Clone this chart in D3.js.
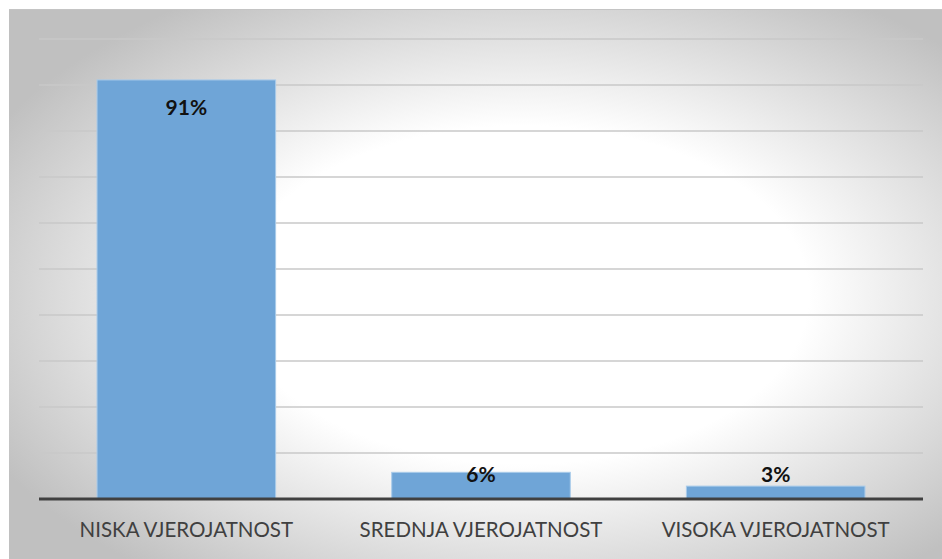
<!DOCTYPE html>
<html>
<head>
<meta charset="utf-8">
<script src="https://cdn.jsdelivr.net/npm/d3@7"></script>
<style>
  html, body { margin: 0; padding: 0; background: #fff; }
  svg { display: block; }
</style>
</head>
<body>
<svg id="chart" width="942" height="559"></svg>
<script>
// data
const categories = ["NISKA VJEROJATNOST", "SREDNJA VJEROJATNOST", "VISOKA VJEROJATNOST"];
const values = [91.1, 5.8, 2.8];
const labels = ["91%", "6%", "3%"];
const gridTicks = [0, 10, 20, 30, 40, 50, 60, 70, 80, 90, 100];

const width = 942, height = 559;
const svg = d3.select("#chart");

// background gradient (white in the middle, gray at the edges)
const defs = svg.append("defs");
const grad = defs.append("radialGradient")
    .attr("id", "bg")
    .attr("cx", "55%").attr("cy", "52%").attr("r", "64%");
grad.append("stop").attr("offset", "0%").attr("stop-color", "#ffffff");
grad.append("stop").attr("offset", "48%").attr("stop-color", "#ffffff");
grad.append("stop").attr("offset", "100%").attr("stop-color", "#c0c0c0");

svg.append("rect")
    .attr("x", 9).attr("y", 9)
    .attr("width", width - 9).attr("height", height - 9)
    .attr("fill", "url(#bg)");
svg.append("line")
    .attr("x1", 9).attr("x2", width).attr("y1", 9.5).attr("y2", 9.5)
    .attr("stroke", "#c4c4c4").attr("stroke-width", 1);

const margin = { left: 39, right: 19, top: 39, bottom: 60 };
const x = d3.scaleBand()
    .domain(categories)
    .range([margin.left, width - margin.right])
    .paddingInner(0.394)
    .paddingOuter(0.197);
const y = d3.scaleLinear()
    .domain([0, 100])
    .range([height - margin.bottom, margin.top]);

// gridlines
svg.append("g")
    .selectAll("line")
    .data(gridTicks.filter(d => d > 0))
    .join("line")
    .attr("x1", margin.left).attr("x2", width - margin.right)
    .attr("y1", d => y(d)).attr("y2", d => y(d))
    .attr("stroke", "#c9c9c9")
    .attr("stroke-width", 1.6);

// bars
svg.append("g")
    .selectAll("rect")
    .data(values)
    .join("rect")
    .attr("x", (d, i) => x(categories[i]))
    .attr("width", x.bandwidth())
    .attr("y", d => y(d))
    .attr("height", d => y(0) - y(d))
    .attr("fill", "#6fa5d7")
    .attr("stroke", "#a9cbea")
    .attr("stroke-width", 1);

// axis line
svg.append("line")
    .attr("x1", margin.left).attr("x2", width - margin.right)
    .attr("y1", y(0)).attr("y2", y(0))
    .attr("stroke", "#404040")
    .attr("stroke-width", 3);

// data labels
svg.append("g")
    .selectAll("text")
    .data(values)
    .join("text")
    .attr("x", (d, i) => x(categories[i]) + x.bandwidth() / 2)
    .attr("y", d => Math.min(y(d) + 28, y(0) - 24))
    .attr("dy", "0.35em")
    .attr("text-anchor", "middle")
    .attr("font-family", "Lato, sans-serif")
    .attr("font-weight", "bold")
    .attr("font-size", 21)
    .attr("fill", "#111")
    .text((d, i) => labels[i]);

// category labels
svg.append("g")
    .selectAll("text")
    .data(categories)
    .join("text")
    .attr("x", d => x(d) + x.bandwidth() / 2)
    .attr("y", 530)
    .attr("dy", "0.35em")
    .attr("text-anchor", "middle")
    .attr("font-family", "Lato, sans-serif")
    .attr("font-size", 20.5)
    .attr("fill", "#404040")
    .text(d => d);
</script>
</body>
</html>
